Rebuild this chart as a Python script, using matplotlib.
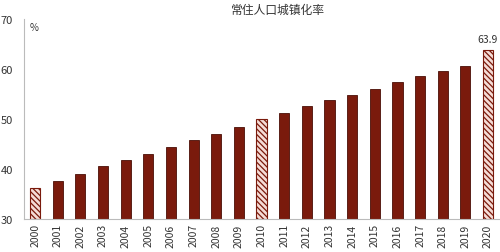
import matplotlib.pyplot as plt

plt.rcParams['font.family'] = ['Noto Sans CJK SC', 'DejaVu Sans']
plt.rcParams['hatch.linewidth'] = 0.9

years = [str(y) for y in range(2000, 2021)]
rate = [36.22, 37.66, 39.09, 40.53, 41.76, 42.99, 44.34, 45.89, 46.99, 48.34,
        49.95, 51.27, 52.57, 53.73, 54.77, 56.10, 57.35, 58.52, 59.58, 60.60, 63.89]
census_years = ['2000', '2010', '2020']

dark = '#7a1a0c'
plt.rcParams['hatch.color'] = dark
fig = plt.figure(figsize=(5.0, 2.53), dpi=100)
ax = fig.add_axes([0.048, 0.130, 0.952, 0.791])

for i, (yr, v) in enumerate(zip(years, rate)):
    if yr in census_years:
        ax.bar(i, v - 30, bottom=30, width=0.45, color='#f5dcd6',
               edgecolor=dark, hatch='\\\\\\\\\\\\', linewidth=0.8)
    else:
        ax.bar(i, v - 30, bottom=30, width=0.45, color=dark,
               edgecolor='#4a0e06', linewidth=0.6)

ax.annotate(f'{rate[-1]:.1f}', (len(years) - 1, rate[-1]), xytext=(0, 4),
            textcoords='offset points', ha='center', va='bottom',
            fontsize=7.5, color='#333333')

ax.set_xlim(-0.49, 20.53)
ax.set_ylim(30, 70)
ax.set_yticks([30, 40, 50, 60, 70])
ax.set_xticks(range(len(years)))
ax.set_xticklabels(years, rotation=90, fontsize=7.5, color='#333333')
ax.tick_params(axis='y', labelsize=8, colors='#333333', length=0, pad=8)
ax.tick_params(axis='x', length=0, pad=3)

for s in ['top', 'right']:
    ax.spines[s].set_visible(False)
ax.spines['left'].set_color('#bbbbbb')
ax.spines['bottom'].set_color('#bbbbbb')

ax.text(0.012, 0.985, '%', transform=ax.transAxes, fontsize=7, color='#333333',
        va='top', ha='left')
fig.text(0.556, 0.96, '常住人口城镇化率', ha='center', va='center', fontsize=8.5,
         color='#333333')

fig.savefig('out.png', dpi=100)
